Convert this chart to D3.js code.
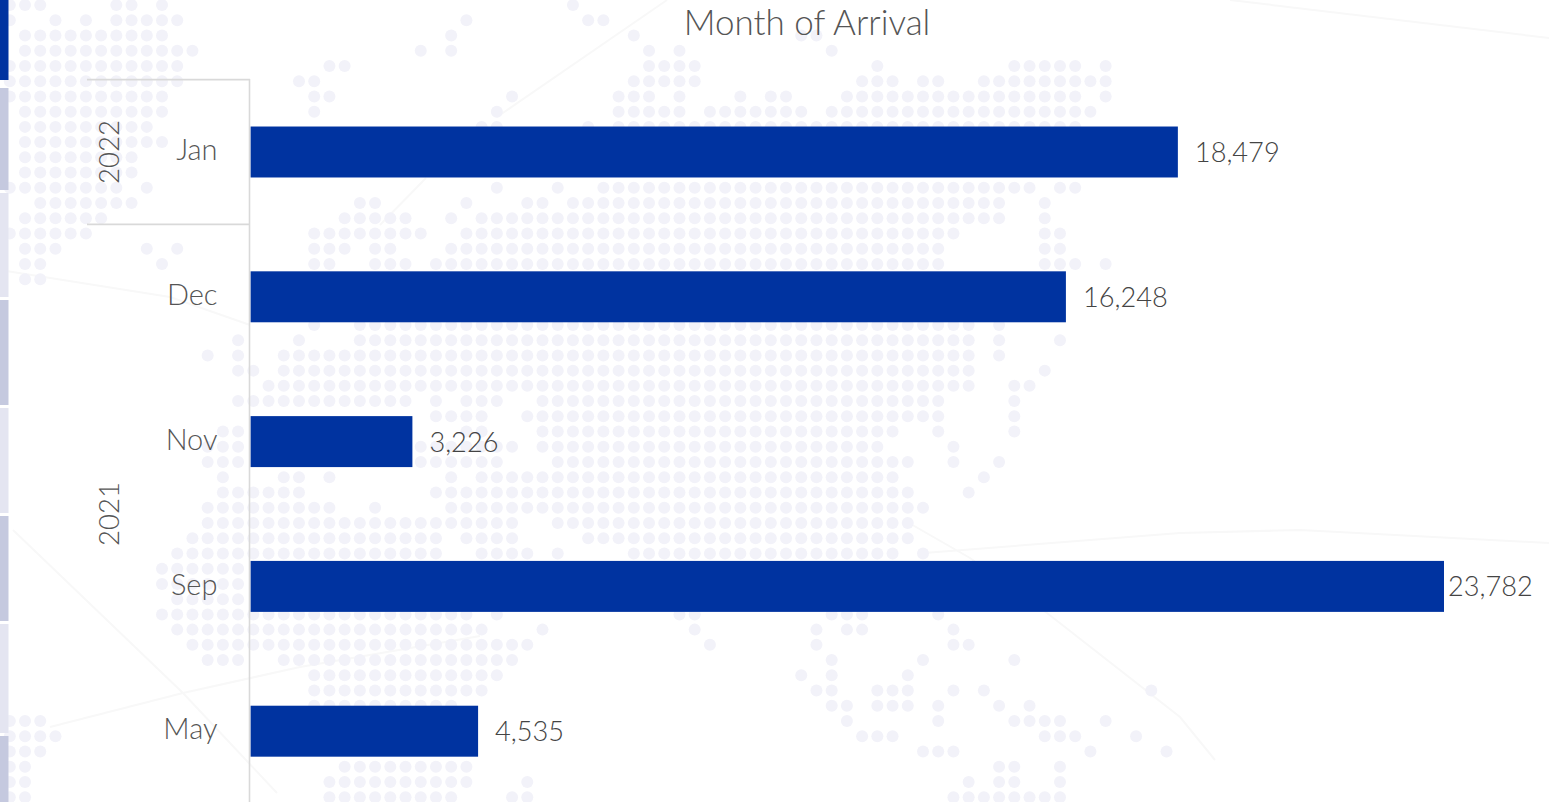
<!DOCTYPE html>
<html>
<head>
<meta charset="utf-8">
<script src="https://cdn.jsdelivr.net/npm/d3@7"></script>
<style>
  html, body { margin: 0; padding: 0; background: #fff; overflow: hidden; }
  text { font-family: Lato, "Open Sans", sans-serif; font-weight: 300; fill: #555; }
</style>
</head>
<body>
<div id="chart"></div>
<script>
// =========================
// DATA
// =========================
const months = ["Jan", "Dec", "Nov", "Sep", "May"];
const arrivals = [18479, 16248, 3226, 23782, 4535];
const years = ["2022", "2021"];
const yearFirstMonth = ["Jan", "Dec"];
const yearLastMonth = ["Jan", "May"];
const chartTitle = "Month of Arrival";

// background dot map, one entry per row, runs of lit columns
const dotRows = [
  "0-2 7-8 10 37", "0 3 5 7-11 30 38-39", "1-10 29 41 52-53", "1-12 27 29 42 44 54",
  "0-11 21-22 42-45 57 66-70 72", "0-11 19-20 41-45 56-58 60-61 64-72",
  "0-10 20-21 33 40-42 44 48 50-51 55-70 72", "1-10 20 32 40-44 46-52 54-71",
  "1-9 31-32 38 40-70", "1-10", "1-8", "1-8",
  "0-7 9 32 36 39-67 69-70", "2-8 23-24 30 34-35 37-65 68", "1-6 22-26 29 31-65 68",
  "0-5 20-27 30-62 68-69", "1-3 9 11 20-22 24-25 29-61 68-69",
  "1-2 10 20-21 24-26 28-61 68-70 72", "1-2", "", "",
  "20 23-63 65", "15 19 23-63 65 69", "13 15 18-63 65", "15-16 18-63 68", "17-63 66-67",
  "15-26 28 30-32 35-61 66", "28-31 34-61 66", "14-15 30-31 35-58 61 66",
  "13-15 27-33 35-57 62", "13-15 27-32 36-59 62 65", "14 18-19 21 29 31-58 64",
  "14-19 28-59 63", "13-21 24 29-60", "13-33 36-59", "12-28 30-33 38-59",
  "11-28 31-34 36 41-58 60", "10-15", "10-15", "11-15",
  "10-30 32 44-45 54-56 61", "11-31 35 45 53 55-56 62", "12-34 46 53 62-63",
  "13-15 18-33 54 60 66", "20-32 52 54 59", "20-31 53-54 57-59 62 64 75",
  "20-29 54-55 57-59 61 65 67", "0-2 55 61 66-69 72", "0-3 56-58 68-70 74",
  "0-2 60-62 71 76", "0-1 22-30 65-66 69", "0-1 21-30 34 63 65-66 69",
  "0-1 21-29 33-34 62-69"
];

// =========================
// SETUP
// =========================
const width = 1549, height = 802;

const svg = d3.select("#chart").append("svg")
  .attr("width", width)
  .attr("height", height)
  .style("display", "block");

svg.append("defs").append("filter")
  .attr("id", "soft")
  .append("feGaussianBlur")
  .attr("stdDeviation", 0.7);

// =========================
// BACKGROUND
// =========================
const bg = svg.append("g").attr("filter", "url(#soft)");

const colX = d3.scaleLinear().domain([0, 100]).range([9.8, 9.8 + 1522]);
const rowY = d3.scaleLinear().domain([0, 52]).range([5, 797.2]);

const dots = [];
dotRows.forEach((row, j) => {
  row.split(" ").filter(Boolean).forEach(run => {
    const [a, b] = run.split("-").map(Number);
    d3.range(a, (b === undefined ? a : b) + 1).forEach(c => dots.push([c, j]));
  });
});

// faint map borders behind the dots
const mapLines = [
  [[0, 270], [170, 297], [250, 325]],
  [[426, 178], [380, 225]],
  [[667, 0], [497, 117]],
  [[1230, 0], [1549, 38]],
  [[924, 553], [1180, 533], [1300, 530], [1549, 543]],
  [[909, 523], [970, 558], [1047, 613], [1180, 717], [1215, 760]],
  [[50, 727], [183, 693], [300, 667], [480, 636]],
  [[13, 530], [183, 693], [277, 793]]
];
bg.selectAll("path")
  .data(mapLines)
  .enter()
  .append("path")
  .attr("d", d3.line())
  .attr("fill", "none")
  .attr("stroke", "#f8f8f8")
  .attr("stroke-width", 2);

bg.selectAll("circle")
  .data(dots)
  .enter()
  .append("circle")
  .attr("cx", d => colX(d[0]))
  .attr("cy", d => rowY(d[1]))
  .attr("r", 6)
  .attr("fill", "#f2f2f9");

// =========================
// LEFT NAV STRIP
// =========================
const navTops = [-2, 88, 193, 300, 408, 516, 624, 736];
const navBottoms = [80, 190, 297, 405, 513, 621, 733, 804];
const navColors = ["#0033a0", "#c5c9df", "#e4e5f1", "#c5c9df", "#e4e5f1", "#c5c9df", "#e4e5f1", "#c5c9df"];
svg.append("g").selectAll("rect")
  .data(navTops)
  .enter()
  .append("rect")
  .attr("x", 0)
  .attr("width", 8.5)
  .attr("y", d => d)
  .attr("height", (d, i) => navBottoms[i] - d)
  .attr("fill", (d, i) => navColors[i]);

// =========================
// SCALES
// =========================
const x = d3.scaleLinear()
  .domain([0, 23782])
  .range([250.5, 1444]);

const y = d3.scaleBand()
  .domain(months)
  .range([79.6, 803.6])
  .paddingInner(0.648)
  .paddingOuter(0.324);

// =========================
// BARS
// =========================
svg.append("g").selectAll("rect")
  .data(months)
  .enter()
  .append("rect")
  .attr("x", x(0))
  .attr("y", d => y(d))
  .attr("width", (d, i) => x(arrivals[i]) - x(0))
  .attr("height", y.bandwidth())
  .attr("fill", "#0033a0");

// =========================
// AXIS
// =========================
const axis = svg.append("g")
  .attr("transform", "translate(249.5, 0)")
  .call(d3.axisLeft(y).tickSize(0).tickPadding(32));

axis.select(".domain").remove();
axis.selectAll("text")
  .attr("dy", "0.28em")
  .style("font-size", "29px")
  .style("font-family", "Lato")
  .style("font-weight", 300)
  .style("fill", "#555");

const rule = "#d9d9d9";
svg.append("line")
  .attr("x1", 249.5).attr("x2", 249.5)
  .attr("y1", 79).attr("y2", 802)
  .attr("stroke", rule).attr("stroke-width", 1.6);

// year group separators
const yearEdge = m => y(m) - y.step() * 0.324;
svg.append("g").selectAll("line")
  .data(yearFirstMonth)
  .enter()
  .append("line")
  .attr("x1", 87).attr("x2", 250)
  .attr("y1", d => yearEdge(d))
  .attr("y2", d => yearEdge(d))
  .attr("stroke", rule).attr("stroke-width", 1.6);

svg.append("g").selectAll("text")
  .data(years)
  .enter()
  .append("text")
  .attr("text-anchor", "middle")
  .attr("transform", (d, i) => {
    const top = yearEdge(yearFirstMonth[i]);
    const bottom = yearEdge(yearLastMonth[i]) + y.step();
    return `translate(119, ${(top + bottom) / 2}) rotate(-90)`;
  })
  .style("font-size", "27.5px")
  .text(d => d);

// =========================
// VALUE LABELS
// =========================
const fmt = d3.format(",");
svg.append("g").selectAll("text")
  .data(months)
  .enter()
  .append("text")
  .attr("x", (d, i) => Math.min(x(arrivals[i]) + 17, 1448))
  .attr("y", d => y(d) + y.bandwidth() / 2 + 10)
  .style("font-size", "27.2px")
  .style("fill", "#444")
  .text((d, i) => fmt(arrivals[i]));

// =========================
// TITLE
// =========================
svg.append("text")
  .attr("x", 807)
  .attr("y", 35)
  .attr("text-anchor", "middle")
  .style("font-size", "35px")
  .text(chartTitle);
</script>
</body>
</html>
